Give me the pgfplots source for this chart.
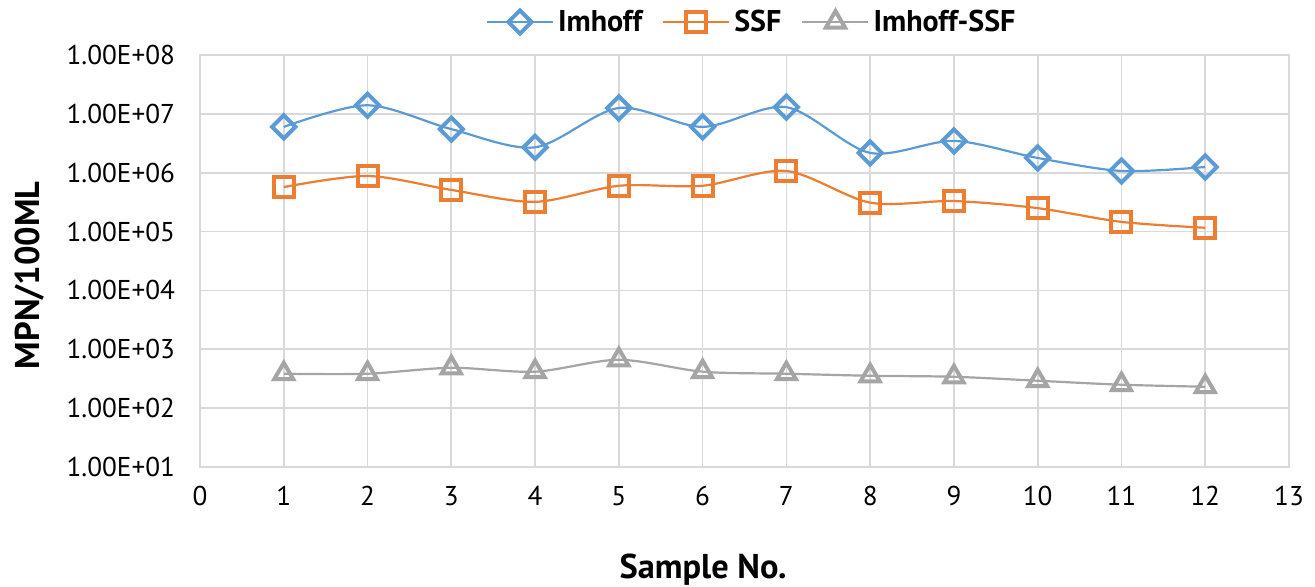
\documentclass[border=0pt]{standalone}
\usepackage{pgfplots}
\pgfplotsset{compat=1.18}
\usepackage{fontspec}
\setmainfont{PT Sans}
\usetikzlibrary{plotmarks}
\definecolor{cblue}{HTML}{5B9BD5}
\definecolor{corange}{HTML}{ED7D31}
\definecolor{cgray}{HTML}{A5A5A5}
\definecolor{cgrid}{HTML}{D9D9D9}
\begin{document}
\begin{tikzpicture}
\useasboundingbox (-100pt,-60pt) rectangle (557.5pt,233.5pt);
\begin{axis}[
  scale only axis, width=544.5pt, height=206pt,
  at={(0,0)}, anchor=south west,
  xmin=0, xmax=13, ymode=log, ymin=10, ymax=1e8,
  xtick={0,...,13}, ytick={1e1,1e2,1e3,1e4,1e5,1e6,1e7,1e8},
  yticklabels={1.00E+01,1.00E+02,1.00E+03,1.00E+04,1.00E+05,1.00E+06,1.00E+07,1.00E+08},
  minor ytick={}, yminorticks=false,
  grid=major, major grid style={cgrid, line width=0.85pt},
  axis line style={cgrid, line width=0.85pt},
  tick style={draw=none},
  /pgf/number format/assume math mode=true,
  tick label style={font=\fontsize{13.6}{16}\selectfont},
  xticklabel style={yshift=-6pt},
  yticklabel style={xshift=-9pt},
  xlabel={\textbf{Sample No.}}, ylabel={\textbf{MPN/100ML}},
  label style={font=\fontsize{17.2}{20}\selectfont},
  xlabel style={at={(axis description cs:0.462,-0.25)}, anchor=center},
  ylabel style={at={(axis description cs:-0.1561,0.465)}, anchor=center},
  legend columns=3,
  legend style={at={(axis description cs:0.5075,1.08)}, anchor=center, draw=none, fill=none,
    font=\fontsize{15}{17}\selectfont\bfseries,
    /tikz/every even column/.append style={column sep=8pt}},
  legend image code/.code={\draw[mark repeat=2,mark phase=2] plot coordinates {(0pt,0pt) (16.5pt,0pt) (33pt,0pt)};},
  every axis plot/.append style={smooth, tension=0.5, line width=1.1pt},
  clip=false,
]
\addplot[cblue, mark=square, mark size=4.1pt, mark options={rotate=45, fill=white, line width=2pt, solid}]
 coordinates {(1,6.0e6)(2,1.4e7)(3,5.5e6)(4,2.7e6)(5,1.26e7)(6,6.0e6)(7,1.3e7)(8,2.17e6)(9,3.47e6)(10,1.78e6)(11,1.07e6)(12,1.25e6)};
\addlegendentry{Imhoff}
\addplot[corange, mark=square, mark size=5pt, mark options={fill=white, line width=2pt, solid}]
 coordinates {(1,5.7e5)(2,8.8e5)(3,5.1e5)(4,3.2e5)(5,6.0e5)(6,6.0e5)(7,1.07e6)(8,3.1e5)(9,3.3e5)(10,2.5e5)(11,1.46e5)(12,1.16e5)};
\addlegendentry{SSF}
\addplot[cgray, mark=triangle, mark size=5.5pt, mark options={fill=white, line width=2pt, solid}]
 coordinates {(1,384)(2,384)(3,485)(4,416)(5,663)(6,416)(7,384)(8,355)(9,341)(10,292)(11,250)(12,231)};
\addlegendentry{Imhoff-SSF}
\end{axis}
\end{tikzpicture}
\end{document}
